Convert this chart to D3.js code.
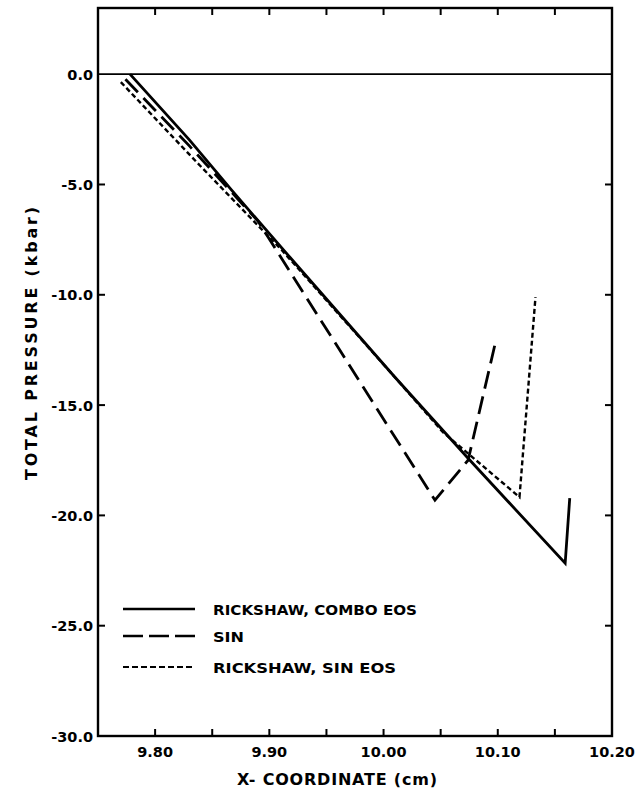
<!DOCTYPE html>
<html><head><meta charset="utf-8">
<script src="https://cdn.jsdelivr.net/npm/d3@7"></script>
<style>body{margin:0;background:#fff}svg{display:block}</style>
</head><body>
<svg id="c" width="640" height="792"></svg>
<script>
const comboX = [9.778, 9.830, 9.867, 9.918, 10.010, 10.074, 10.159, 10.163];
const comboY = [0.0, -2.98, -5.26, -8.30, -13.74, -17.41, -22.17, -19.22];
const sinX = [9.774, 9.830, 9.890, 10.045, 10.074, 10.098];
const sinY = [-0.23, -3.25, -6.66, -19.31, -17.50, -12.15];
const sinEosX = [9.770, 9.839, 9.911, 10.010, 10.052, 10.119, 10.133];
const sinEosY = [-0.36, -4.13, -7.98, -13.74, -16.23, -19.17, -10.11];
const xTickLabels = ["9.80", "9.90", "10.00", "10.10", "10.20"];
const yTickLabels = ["0.0", "-5.0", "-10.0", "-15.0", "-20.0", "-25.0", "-30.0"];
const legendLabels = ["RICKSHAW, COMBO EOS", "SIN", "RICKSHAW, SIN EOS"];

const L = 98, R = 612, T = 8, B = 736;
const svg = d3.select("#c");
const x = d3.scaleLinear().domain([9.75, 10.20]).range([L, R]);
const y = d3.scaleLinear().domain([-30, 3]).range([B, T]);
const font = "'DejaVu Sans', sans-serif";

// frame
svg.append("rect").attr("x", L).attr("y", T).attr("width", R - L).attr("height", B - T)
  .attr("fill", "none").attr("stroke", "#000").attr("stroke-width", 2.4);

// ticks
const xTicks = d3.range(0, 10).map(i => +(9.75 + i * 0.05).toFixed(2)).filter(v => v > 9.76 && v < 10.19);
const yTicks = [-5, -10, -15, -20, -25];
const tl = 7;
const g = svg.append("g").attr("stroke", "#000").attr("stroke-width", 2);
xTicks.forEach(v => {
  g.append("line").attr("x1", x(v)).attr("x2", x(v)).attr("y1", B).attr("y2", B - tl);
  g.append("line").attr("x1", x(v)).attr("x2", x(v)).attr("y1", T).attr("y2", T + tl);
});
yTicks.forEach(v => {
  g.append("line").attr("x1", L).attr("x2", L + tl).attr("y1", y(v)).attr("y2", y(v));
  g.append("line").attr("x1", R).attr("x2", R - tl).attr("y1", y(v)).attr("y2", y(v));
});

// zero line
svg.append("line").attr("x1", L).attr("x2", R).attr("y1", y(0)).attr("y2", y(0))
  .attr("stroke", "#000").attr("stroke-width", 1.8);

// tick labels
xTickLabels.forEach(t => {
  svg.append("text").attr("x", x(+t)).attr("y", 757).attr("text-anchor", "middle")
    .attr("font-family", font).attr("font-weight", "bold").attr("font-size", 14.5).text(t);
});
yTickLabels.forEach(t => {
  svg.append("text").attr("x", 93).attr("y", y(+t) + 5.5).attr("text-anchor", "end")
    .attr("font-family", font).attr("font-weight", "bold").attr("font-size", 14.5).text(t);
});

// axis titles
svg.append("text").attr("x", 237).attr("y", 785).attr("textLength", 200).attr("lengthAdjust", "spacing")
  .attr("font-family", font).attr("font-weight", "bold").attr("font-size", 16).text("X- COORDINATE  (cm)");
svg.append("text").attr("transform", "translate(37,480) rotate(-90)").attr("textLength", 273)
  .attr("lengthAdjust", "spacing")
  .attr("font-family", font).attr("font-weight", "bold").attr("font-size", 16).text("TOTAL PRESSURE (kbar)");

// series
const line = d3.line().x(d => x(d[0])).y(d => y(d[1]));
const series = [
  {xs: comboX, ys: comboY, dash: null, w: 2.8},
  {xs: sinX, ys: sinY, dash: "18,8", w: 2.8},
  {xs: sinEosX, ys: sinEosY, dash: "5,3", w: 2.4}
];
series.forEach(s => {
  svg.append("path").datum(s.xs.map((v, i) => [v, s.ys[i]])).attr("d", line)
    .attr("fill", "none").attr("stroke", "#000").attr("stroke-width", s.w)
    .attr("stroke-dasharray", s.dash).attr("stroke-linejoin", "miter");
});

// legend
const legY = [609, 636, 667];
const legW = [204, 31, 183];
series.forEach((s, i) => {
  svg.append("line").attr("x1", 123).attr("x2", 195).attr("y1", legY[i]).attr("y2", legY[i])
    .attr("stroke", "#000").attr("stroke-width", i === 2 ? 2 : 2.4)
    .attr("stroke-dasharray", i === 1 ? "20,6" : (i === 2 ? "6,3" : null));
  svg.append("text").attr("x", 213).attr("y", legY[i] + 6).attr("textLength", legW[i])
    .attr("lengthAdjust", "spacingAndGlyphs")
    .attr("font-family", font).attr("font-weight", "bold").attr("font-size", 14).text(legendLabels[i]);
});
</script>
</body></html>
